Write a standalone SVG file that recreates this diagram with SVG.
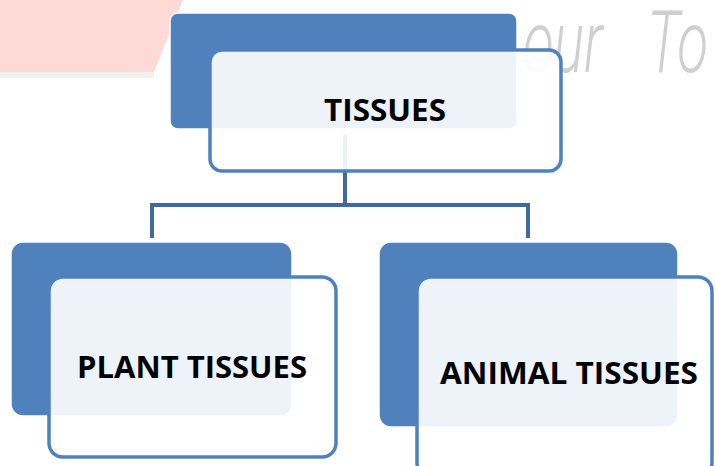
<svg xmlns="http://www.w3.org/2000/svg" width="715" height="466" viewBox="0 0 715 466">
<style>
.dark{fill:#4f81bd;stroke:#ffffff;stroke-width:1.5}
.light{fill:#ffffff;fill-opacity:0.9;stroke:#4f81bd;stroke-width:3.5}
.lbl{font-family:"Open Sans","Liberation Sans",sans-serif;font-weight:bold;font-size:31px;fill:#000000;text-anchor:middle}
.conn{fill:none;stroke:#41699c;stroke-width:4}
</style>
<rect width="715" height="466" fill="#ffffff"/>
<g id="watermark">
<polygon points="0,0 183,0 154,72 0,72" fill="#fddad6"/>
<rect x="0" y="72" width="154" height="6" fill="#f4f0ef"/>
<text transform="translate(523,72) scale(0.66,1)" font-family="Roboto,'Open Sans',sans-serif" font-weight="300" font-style="italic" font-size="86" fill="#cfcfcf"><tspan x="0">our</tspan><tspan x="188">To</tspan></text>
</g>
<g id="connectors">
<path class="conn" d="M345 135 V205 M152 205 H528 M152 203 V238 M528 203 V238"/>
</g>
<g id="node-tissues">
<rect class="dark" x="170" y="13" width="347" height="116" rx="8"/>
<rect class="light" x="210" y="50" width="351" height="121" rx="12"/>
<text class="lbl" x="385" y="121" textLength="122" lengthAdjust="spacingAndGlyphs">TISSUES</text>
</g>
<g id="node-plant">
<rect class="dark" x="11" y="242" width="281" height="174" rx="12"/>
<rect class="light" x="49" y="277" width="287" height="180" rx="14"/>
<text class="lbl" x="192" y="378" textLength="230" lengthAdjust="spacingAndGlyphs">PLANT TISSUES</text>
</g>
<g id="node-animal">
<rect class="dark" x="379" y="242" width="299" height="185" rx="12"/>
<rect class="light" x="417" y="277" width="295" height="200" rx="14"/>
<text class="lbl" x="569" y="384" textLength="258" lengthAdjust="spacingAndGlyphs">ANIMAL TISSUES</text>
</g>
</svg>
